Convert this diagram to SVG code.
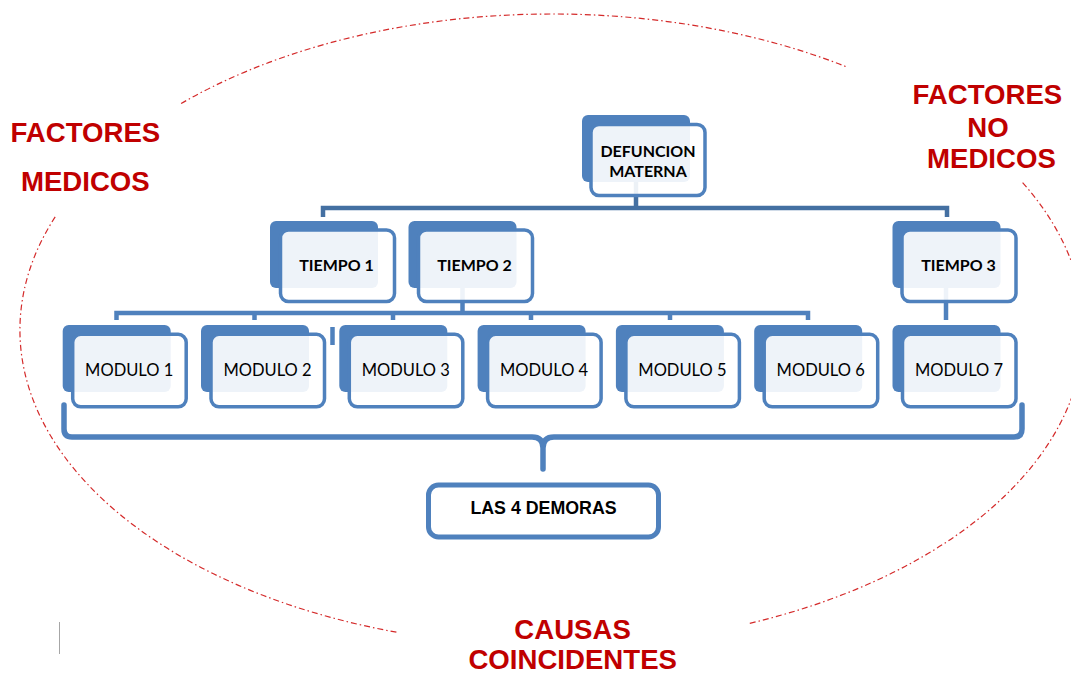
<svg xmlns="http://www.w3.org/2000/svg" width="1071" height="675" viewBox="0 0 1071 675">
<style>
.arc{fill:none;stroke:#D42A2A;stroke-width:1.2;stroke-dasharray:6 3 1.5 3}
.conn{fill:none;stroke:#4F81BD;stroke-width:4.5;stroke-linejoin:miter}
.conn.top{stroke:#4470A2}
.back{fill:#4F81BD}
.front{fill:#FFFFFF;fill-opacity:0.9;stroke:#4F81BD;stroke-width:3.5}
.tb{font-family:Lato,"Liberation Sans",sans-serif;font-weight:bold;font-size:16px;fill:#000;text-anchor:middle}
.tm{font-family:Lato,"Liberation Sans",sans-serif;font-size:16.5px;fill:#000;text-anchor:middle}
.red{font-family:"Liberation Sans",Arial,sans-serif;font-weight:bold;font-size:27.6px;fill:#C00000;text-anchor:middle}
.dem{font-family:"Liberation Sans",Arial,sans-serif;font-weight:bold;font-size:17.8px;fill:#000;text-anchor:middle}
</style>
<rect width="1071" height="675" fill="#FFFFFF"/>
<g id="ellipse">
<path class="arc" d="M181.1,103.5 A532,316 0 0 1 848,67.4"/>
<path class="arc" d="M1022.6,182.6 A532,316 0 0 1 749.6,623.4"/>
<path class="arc" d="M396.4,632.2 A532,316 0 0 1 55.3,216.7"/>
</g>
<line x1="59.5" y1="622" x2="59.5" y2="654" stroke="#A6A6A6" stroke-width="1"/>
<g id="connectors">
<path class="conn top" d="M636,182 V208 M323,217 V208 H947 V217"/>
<path class="conn" d="M462.5,288 V313"/>
<path class="conn" d="M116.5,320 V313 H808 V320 M254.5,313 V320 M393,313 V320 M531,313 V320 M670,313 V320"/>
<path class="conn" d="M946,288 V320"/>
<path class="conn" d="M332.5,327 V345"/>
</g>
<g id="defuncion" transform="translate(582,115)">
<rect class="back" x="0" y="0" width="108" height="67" rx="6"/>
<rect class="front" x="9" y="9.5" width="114" height="71" rx="8"/>
<text class="tb" x="66" y="42">DEFUNCION</text>
<text class="tb" x="66" y="62">MATERNA</text>
</g>
<g id="tiempo1" transform="translate(270,221)">
<rect class="back" x="0" y="0" width="108" height="67" rx="6"/>
<rect class="front" x="10.5" y="9" width="114" height="71.5" rx="8"/>
<text class="tb" x="66.5" y="50">TIEMPO 1</text>
</g>
<g id="tiempo2" transform="translate(408.5,221)">
<rect class="back" x="0" y="0" width="108" height="67" rx="6"/>
<rect class="front" x="10" y="9" width="114" height="71.5" rx="8"/>
<text class="tb" x="66" y="50">TIEMPO 2</text>
</g>
<g id="tiempo3" transform="translate(892.5,221)">
<rect class="back" x="0" y="0" width="108" height="67" rx="6"/>
<rect class="front" x="9.5" y="9" width="114" height="71.5" rx="8"/>
<text class="tb" x="66" y="50">TIEMPO 3</text>
</g>
<g id="modulo1" transform="translate(62.7,325)">
<rect class="back" x="0" y="0" width="108" height="67" rx="6"/>
<rect class="front" x="10" y="9.3" width="113.5" height="72.5" rx="8"/>
<text class="tm" x="66.5" y="51">MODULO 1</text>
</g>
<g id="modulo2" transform="translate(201,325)">
<rect class="back" x="0" y="0" width="108" height="67" rx="6"/>
<rect class="front" x="10" y="9.3" width="113.5" height="72.5" rx="8"/>
<text class="tm" x="66.5" y="51">MODULO 2</text>
</g>
<g id="modulo3" transform="translate(339.3,325)">
<rect class="back" x="0" y="0" width="108" height="67" rx="6"/>
<rect class="front" x="10" y="9.3" width="113.5" height="72.5" rx="8"/>
<text class="tm" x="66.5" y="51">MODULO 3</text>
</g>
<g id="modulo4" transform="translate(477.6,325)">
<rect class="back" x="0" y="0" width="108" height="67" rx="6"/>
<rect class="front" x="10" y="9.3" width="113.5" height="72.5" rx="8"/>
<text class="tm" x="66.5" y="51">MODULO 4</text>
</g>
<g id="modulo5" transform="translate(615.9,325)">
<rect class="back" x="0" y="0" width="108" height="67" rx="6"/>
<rect class="front" x="10" y="9.3" width="113.5" height="72.5" rx="8"/>
<text class="tm" x="66.5" y="51">MODULO 5</text>
</g>
<g id="modulo6" transform="translate(754.2,325)">
<rect class="back" x="0" y="0" width="108" height="67" rx="6"/>
<rect class="front" x="10" y="9.3" width="113.5" height="72.5" rx="8"/>
<text class="tm" x="66.5" y="51">MODULO 6</text>
</g>
<g id="modulo7" transform="translate(892.5,325)">
<rect class="back" x="0" y="0" width="108" height="67" rx="6"/>
<rect class="front" x="10" y="9.3" width="113.5" height="72.5" rx="8"/>
<text class="tm" x="66.5" y="51">MODULO 7</text>
</g>
<g id="brace">
<path d="M64,405 V429 Q64,437 72,437 H532 Q543,437 543,448 V469 M543,448 Q543,437 554,437 H1014 Q1022,437 1022,429 V405" fill="none" stroke="#4F81BD" stroke-width="5.5" stroke-linecap="round" stroke-linejoin="round"/>
</g>
<g id="demoras">
<rect x="428.5" y="485" width="230" height="52" rx="10" fill="#FFFFFF" stroke="#4F81BD" stroke-width="5"/>
<text class="dem" x="543.5" y="514">LAS 4 DEMORAS</text>
</g>
<g id="labels">
<text class="red" x="85.4" y="141.7">FACTORES</text>
<text class="red" x="85.3" y="190.5">MEDICOS</text>
<text class="red" x="987.4" y="104">FACTORES</text>
<text class="red" x="987.9" y="136.5">NO</text>
<text class="red" x="991.4" y="168.3">MEDICOS</text>
<text class="red" x="572.6" y="638.5">CAUSAS</text>
<text class="red" x="572.7" y="668.5">COINCIDENTES</text>
</g>
</svg>
